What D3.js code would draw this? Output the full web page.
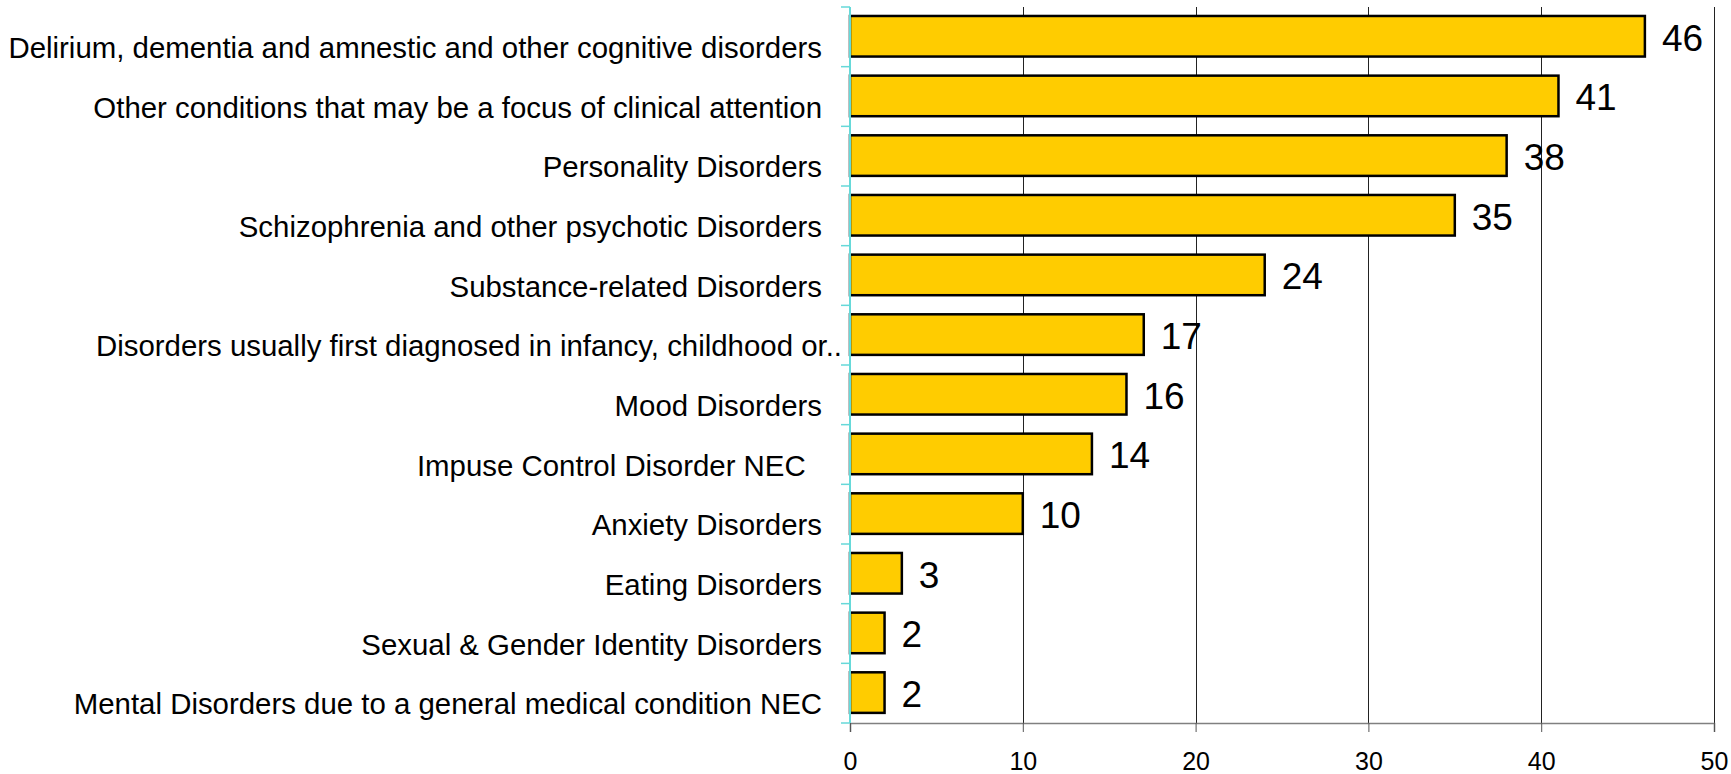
<!DOCTYPE html>
<html>
<head>
<meta charset="utf-8">
<script src="https://cdn.jsdelivr.net/npm/d3@7"></script>
<style>
  html, body { margin: 0; padding: 0; background: #fff; }
  svg { display: block; }
  text { font-family: "Liberation Sans", Arial, sans-serif; fill: #000; }
</style>
</head>
<body>
<svg id="chart" width="1731" height="774"></svg>
<script>
const categories = [
  "Delirium, dementia and amnestic and other cognitive disorders",
  "Other conditions that may be a focus of clinical attention",
  "Personality Disorders",
  "Schizophrenia and other psychotic Disorders",
  "Substance-related Disorders",
  "Disorders usually first diagnosed in infancy, childhood or..",
  "Mood Disorders",
  "Impuse Control Disorder NEC\u00a0\u00a0",
  "Anxiety Disorders",
  "Eating Disorders",
  "Sexual & Gender Identity Disorders",
  "Mental Disorders due to a general medical condition NEC"
];
const values = [46, 41, 38, 35, 24, 17, 16, 14, 10, 3, 2, 2];
const xTicks = [0, 10, 20, 30, 40, 50];

const margin = { top: 7, left: 850, right: 17, bottom: 51 };
const W = 1731, H = 774;
const svg = d3.select("#chart");

const x = d3.scaleLinear().domain([0, 50]).range([margin.left, W - margin.right]);
const y = d3.scaleBand().domain(categories).range([margin.top, H - margin.bottom])
  .paddingInner(0.32).paddingOuter(0.16).align(0.47);
const yStep = d3.scaleBand().domain(categories).range([margin.top, H - margin.bottom]);

// vertical gridlines
svg.append("g").selectAll("line").data(xTicks.filter(d => d > 0)).join("line")
  .attr("x1", d => Math.round(x(d)) + 0.5).attr("x2", d => Math.round(x(d)) + 0.5)
  .attr("y1", margin.top).attr("y2", H - margin.bottom)
  .attr("stroke", "#222").attr("stroke-width", 1);

// bars
svg.append("g").selectAll("rect").data(values).join("rect")
  .attr("x", x(0))
  .attr("y", (d, i) => y(categories[i]))
  .attr("width", d => x(d) - x(0))
  .attr("height", y.bandwidth())
  .attr("fill", "#FFCC00")
  .attr("stroke", "#000")
  .attr("stroke-width", 2.5);

// value labels
svg.append("g").selectAll("text").data(values).join("text")
  .attr("x", d => x(d) + 17)
  .attr("y", (d, i) => y(categories[i]) + y.bandwidth() / 2 + 14.5)
  .attr("font-size", 37)
  .text(d => d);

// bottom axis
const xAxis = svg.append("g")
  .attr("transform", `translate(0,${H - margin.bottom})`)
  .call(d3.axisBottom(x).tickValues(xTicks).tickSize(9).tickPadding(20).tickFormat(d3.format("d")));
xAxis.select(".domain").attr("stroke", "#808080").attr("stroke-width", 1.6);
xAxis.selectAll(".tick line").attr("stroke", "#555").attr("stroke-width", 1);
xAxis.selectAll(".tick text").attr("font-size", 25).attr("font-family", "Liberation Sans, Arial, sans-serif").attr("fill", "#000");

// left axis (cyan) with ticks at band boundaries
const leftG = svg.append("g");
leftG.append("line")
  .attr("x1", x(0)).attr("x2", x(0))
  .attr("y1", margin.top).attr("y2", H - margin.bottom)
  .attr("stroke", "#66d9d9").attr("stroke-width", 2);
const boundaries = categories.map(c => yStep(c)).concat([H - margin.bottom]);
leftG.selectAll("line.tk").data(boundaries).join("line").attr("class", "tk")
  .attr("x1", x(0) - 9).attr("x2", x(0))
  .attr("y1", d => d).attr("y2", d => d)
  .attr("stroke", "#66d9d9").attr("stroke-width", 1.5);

// category labels
svg.append("g").selectAll("text").data(categories).join("text")
  .attr("x", d => x(0) - 28 + (d.endsWith("..") ? 20 : 0))
  .attr("y", d => yStep(d) + yStep.bandwidth() / 2 + 21)
  .attr("text-anchor", "end")
  .attr("font-size", 29.4)
  .style("white-space", "pre")
  .text(d => d);
</script>
</body>
</html>
